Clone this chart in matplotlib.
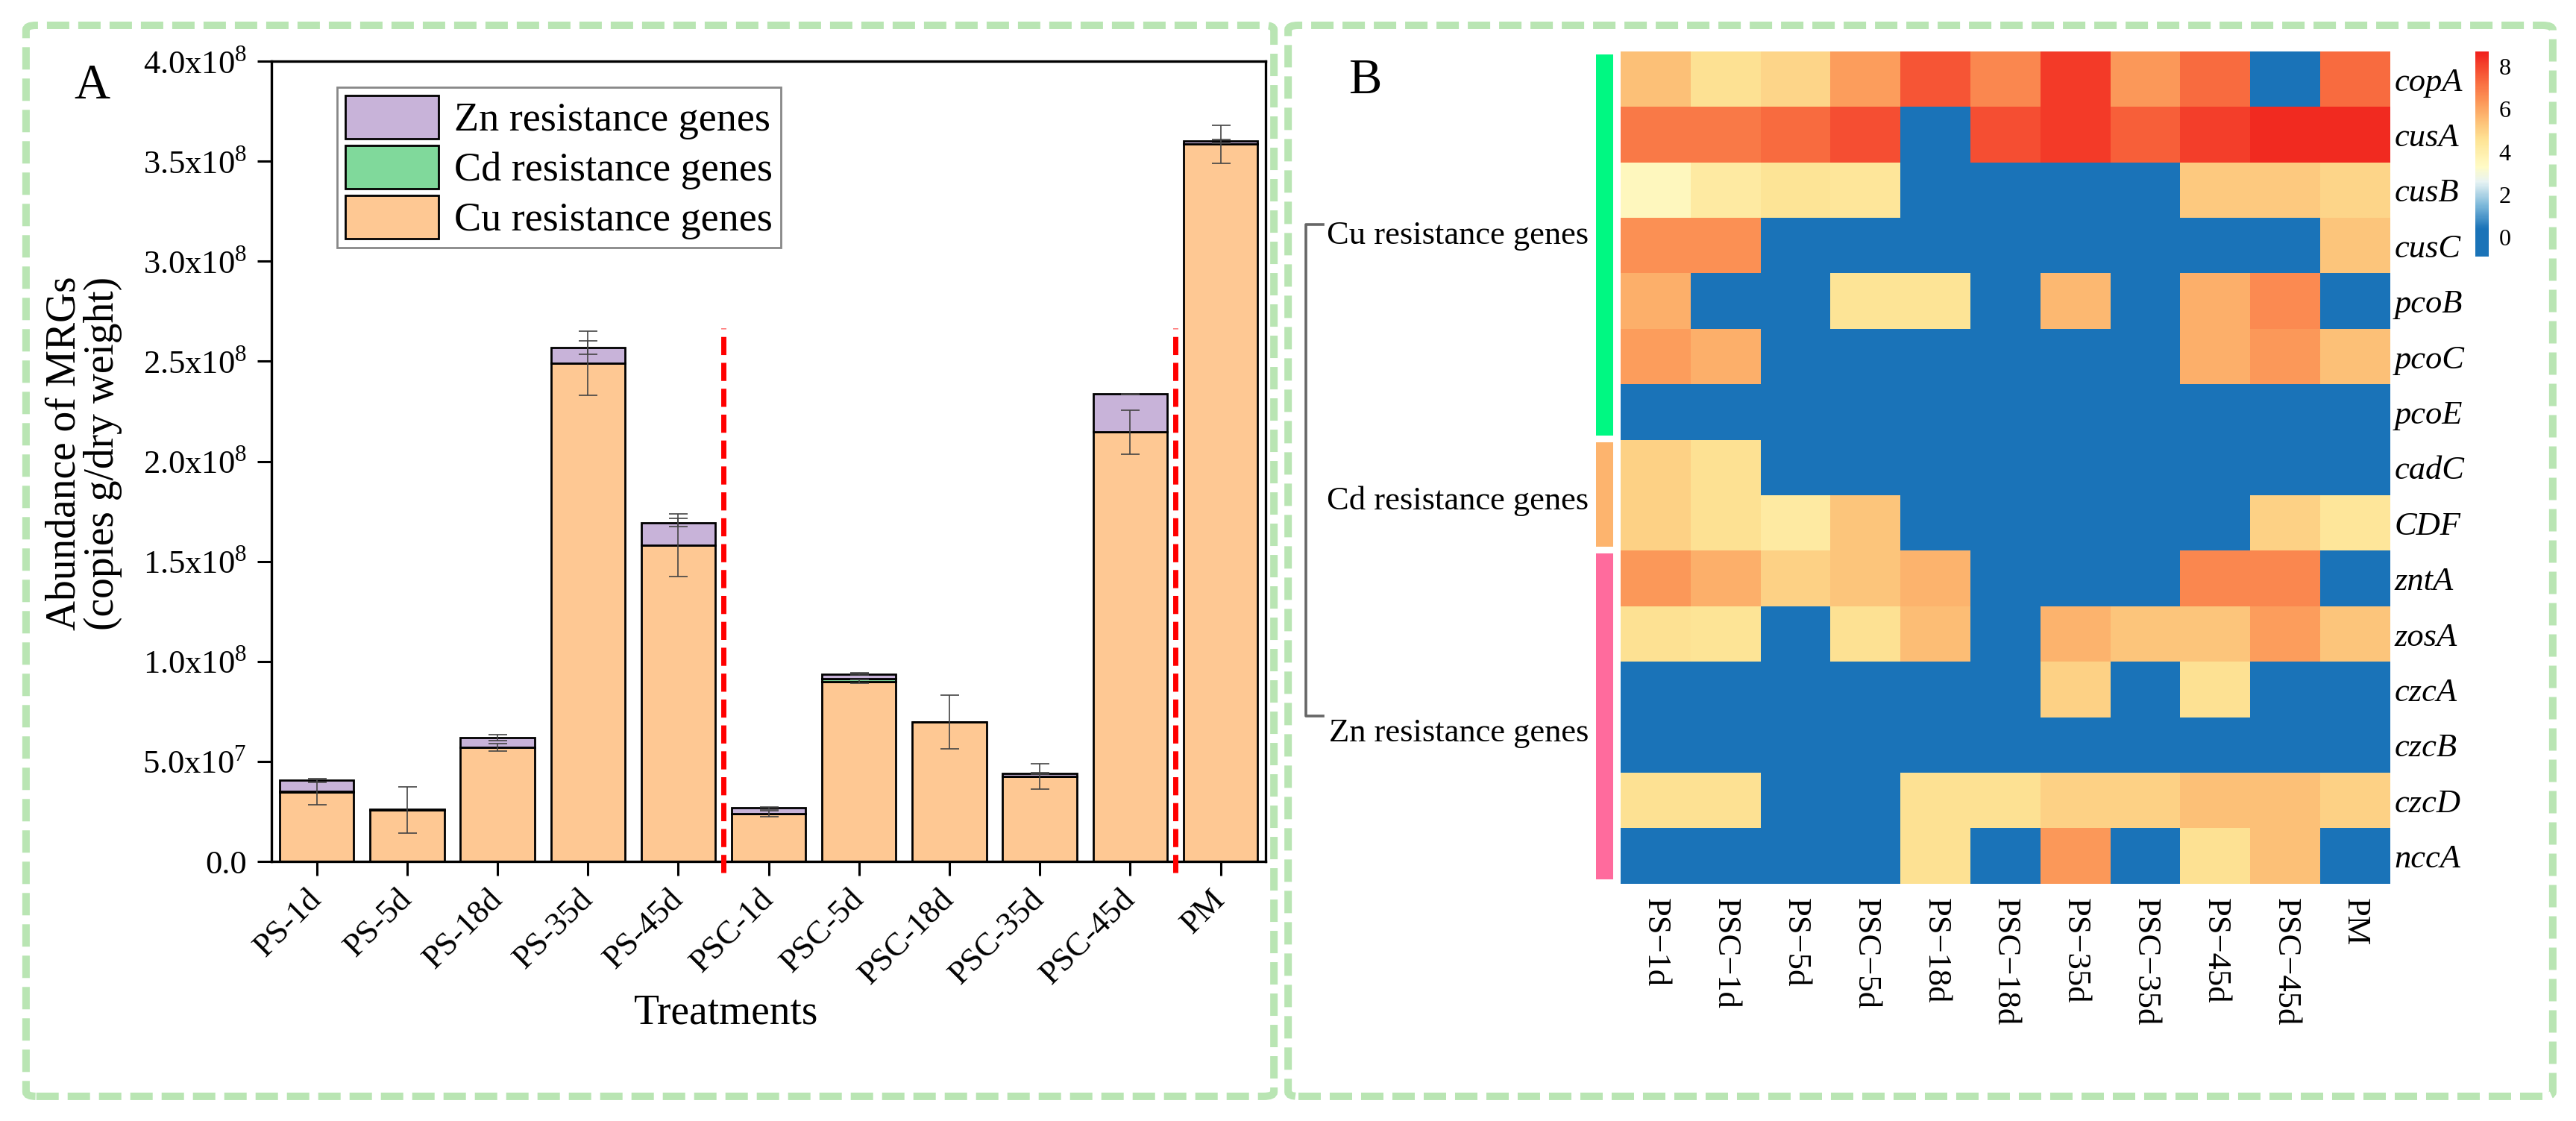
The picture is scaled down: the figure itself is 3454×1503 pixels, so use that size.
import numpy as np
import matplotlib
matplotlib.use('Agg')
import matplotlib.pyplot as plt
from matplotlib.colors import LinearSegmentedColormap
from matplotlib.patches import FancyBboxPatch, Patch
from matplotlib.lines import Line2D
from matplotlib.ticker import FuncFormatter

plt.rcParams['font.family'] = ['Liberation Serif', 'DejaVu Serif']
plt.rcParams['mathtext.fontset'] = 'custom'
plt.rcParams['mathtext.rm'] = 'Liberation Serif'

# ---- panel A data (copies g/dry weight) ----
treatments = ['PS-1d', 'PS-5d', 'PS-18d', 'PS-35d', 'PS-45d',
              'PSC-1d', 'PSC-5d', 'PSC-18d', 'PSC-35d', 'PSC-45d', 'PM']
cu = np.array([0.347, 0.257, 0.571, 2.489, 1.58, 0.239, 0.90, 0.697, 0.425, 2.146, 3.585]) * 1e8
cd = np.array([0.005, 0.0, 0.0, 0.0, 0.0, 0.0, 0.015, 0.0, 0.0, 0.0, 0.0]) * 1e8
zn = np.array([0.053, 0.004, 0.049, 0.08, 0.114, 0.029, 0.022, 0.0, 0.015, 0.19, 0.015]) * 1e8
cu_err = np.array([0.065, 0.115, 0.02, 0.16, 0.157, 0.015, 0.01, 0.135, 0.065, 0.11, 0.095]) * 1e8
zn_err = np.array([0.01, 0.0, 0.015, 0.035, 0.02, 0.005, 0.005, 0.0, 0.005, 0.003, 0.01]) * 1e8
divider_x = [4.5, 9.5]
divider_top = 2.665e8

# ---- panel B data (log abundance) ----
samples = ['PS\u22121d', 'PSC\u22121d', 'PS\u22125d', 'PSC\u22125d', 'PS\u221218d', 'PSC\u221218d',
           'PS\u221235d', 'PSC\u221235d', 'PS\u221245d', 'PSC\u221245d', 'PM']
genes = ['copA', 'cusA', 'cusB', 'cusC', 'pcoB', 'pcoC', 'pcoE', 'cadC', 'CDF',
         'zntA', 'zosA', 'czcA', 'czcB', 'czcD', 'nccA']
heat = np.array([
    [5.4, 4.6, 4.9, 6.2, 7.7, 6.7, 8.2, 6.3, 7.3, 0.0, 7.3],
    [7.0, 7.0, 7.3, 7.8, 0.0, 7.8, 8.2, 7.5, 8.1, 8.5, 8.5],
    [3.5, 4.2, 4.5, 4.4, 0.0, 0.0, 0.0, 0.0, 5.2, 5.2, 4.9],
    [6.5, 6.5, 0.0, 0.0, 0.0, 0.0, 0.0, 0.0, 0.0, 0.0, 5.3],
    [5.8, 0.0, 0.0, 4.5, 4.5, 0.0, 5.6, 0.0, 5.8, 6.6, 0.0],
    [6.2, 5.8, 0.0, 0.0, 0.0, 0.0, 0.0, 0.0, 5.8, 6.3, 5.4],
    [0.0, 0.0, 0.0, 0.0, 0.0, 0.0, 0.0, 0.0, 0.0, 0.0, 0.0],
    [5.0, 4.6, 0.0, 0.0, 0.0, 0.0, 0.0, 0.0, 0.0, 0.0, 0.0],
    [5.0, 4.6, 4.2, 5.3, 0.0, 0.0, 0.0, 0.0, 0.0, 5.0, 4.4],
    [6.3, 5.8, 5.0, 5.3, 5.7, 0.0, 0.0, 0.0, 6.7, 6.7, 0.0],
    [4.6, 4.5, 0.0, 4.6, 5.5, 0.0, 5.7, 5.3, 5.3, 6.2, 5.3],
    [0.0, 0.0, 0.0, 0.0, 0.0, 0.0, 5.0, 0.0, 4.6, 0.0, 0.0],
    [0.0, 0.0, 0.0, 0.0, 0.0, 0.0, 0.0, 0.0, 0.0, 0.0, 0.0],
    [4.6, 4.6, 0.0, 0.0, 4.6, 4.6, 5.0, 5.0, 5.4, 5.4, 5.0],
    [0.0, 0.0, 0.0, 0.0, 4.6, 0.0, 6.3, 0.0, 4.6, 5.4, 0.0],
])
groups = ['Cu resistance genes', 'Cd resistance genes', 'Zn resistance genes']
group_sizes = [7, 2, 6]
group_colors = ['#00f882', '#fdb46e', '#ff6b9d']

c_cu, c_cd, c_zn = '#fec893', '#80d99b', '#c8b3d9'

fig = plt.figure(figsize=(17.275, 7.515), dpi=200)

# dashed panel frames
for x0, x1 in [(0.0101, 0.4944), (0.4999, 0.9907)]:
    box = FancyBboxPatch((x0, 0.022), x1 - x0, 0.9554,
                         boxstyle='round,pad=0,rounding_size=0.004',
                         transform=fig.transFigure, fill=False,
                         edgecolor='#b9e5b3', lw=3.6, linestyle=(0, (3, 1.2)))
    fig.add_artist(box)

# ---------------- panel A ----------------
ax = fig.add_axes([0.1054, 0.2315, 0.3858, 0.7139])
x = np.arange(len(treatments))
w = 0.82
ax.bar(x, cu, w, color=c_cu, edgecolor='black', lw=1.0, label='Cu resistance genes')
ax.bar(x, cd, w, bottom=cu, color=c_cd, edgecolor='black', lw=1.0, label='Cd resistance genes')
ax.bar(x, zn, w, bottom=cu + cd, color=c_zn, edgecolor='black', lw=1.0, label='Zn resistance genes')
ax.errorbar(x, cu, yerr=cu_err, fmt='none', ecolor='#444444', elinewidth=0.6, capsize=4.5, capthick=0.6)
has_zn = zn_err > 0
ax.errorbar(x[has_zn], (cu + cd + zn)[has_zn], yerr=zn_err[has_zn], fmt='none',
            ecolor='#444444', elinewidth=0.6, capsize=4.5, capthick=0.6)
for dx in divider_x:
    ax.plot([dx, dx], [-0.055e8, divider_top], color='#ff0000', lw=2.5,
            linestyle=(0, (3.5, 1.5)), clip_on=False, zorder=5)

ax.set_xlim(-0.5, 10.5)
ax.set_ylim(0, 4.0e8)
ax.set_yticks(np.arange(0, 4.01e8, 0.5e8))


def sci(v, pos):
    if v == 0:
        return '0.0'
    e = int(np.floor(np.log10(v)))
    return '%.1fx10$^{%d}$' % (v / 10 ** e, e)


ax.yaxis.set_major_formatter(FuncFormatter(sci))
ax.set_xticks(x)
ax.set_xticklabels(treatments, rotation=45, ha='right', va='center', rotation_mode='anchor')
ax.tick_params(axis='both', direction='out', length=7, width=1.1, labelsize=16, pad=5)
ax.tick_params(axis='x', pad=9)
for s in ax.spines.values():
    s.set_linewidth(1.2)
ax.set_ylabel('Abundance of MRGs\n(copies g/dry weight)', fontsize=20, linespacing=1.0)
ax.yaxis.set_label_coords(-0.15, 0.51)
ax.set_xlabel('Treatments', fontsize=20)
ax.xaxis.set_label_coords(0.457, -0.165)

handles = [Patch(facecolor=c_zn, edgecolor='black', lw=1.0),
           Patch(facecolor=c_cd, edgecolor='black', lw=1.0),
           Patch(facecolor=c_cu, edgecolor='black', lw=1.0)]
leg = ax.legend(handles, ['Zn resistance genes', 'Cd resistance genes', 'Cu resistance genes'],
                loc='upper left', bbox_to_anchor=(0.066, 0.967), fontsize=19.5,
                handlelength=2.3, handleheight=1.25, labelspacing=0.15, borderpad=0.2,
                handletextpad=0.4, borderaxespad=0, fancybox=False, framealpha=1)
leg.get_frame().set_edgecolor('#888888')
leg.get_frame().set_linewidth(1.0)

fig.text(0.0356, 0.923, 'A', fontsize=24, ha='center', va='center')

# ---------------- panel B ----------------
cmap = LinearSegmentedColormap.from_list('mrg', [
    (0.0, '#1a73b8'), (0.135, '#1a73b8'), (0.25, '#7db8da'), (0.365, '#e8f3f3'),
    (0.438, '#fffbc6'), (0.563, '#fee597'), (0.646, '#fdc67c'), (0.75, '#fc9a5a'),
    (0.854, '#f96c40'), (1.0, '#f0201c')])
vmin, vmax = -0.9, 8.7

hax = fig.add_axes([0.629, 0.2116, 0.2986, 0.7425])
im = hax.imshow(heat, cmap=cmap, vmin=vmin, vmax=vmax, aspect='auto', interpolation='nearest')
hax.set_xticks(np.arange(len(samples)))
hax.set_xticklabels(samples, rotation=270, ha='center', va='top', fontsize=16)
hax.set_yticks(np.arange(len(genes)))
hax.set_yticklabels(genes, fontsize=16, fontstyle='italic')
hax.yaxis.tick_right()
hax.tick_params(axis='both', length=0)
hax.tick_params(axis='x', pad=7)
hax.tick_params(axis='y', pad=2)
for s in hax.spines.values():
    s.set_visible(False)

# row group annotation bar
aax = fig.add_axes([0.6194, 0.2116, 0.0067, 0.7425], sharey=hax)
start = -0.5
for n, col in zip(group_sizes, group_colors):
    aax.bar(0, n - 0.13, bottom=start + 0.05, width=1.0, color=col, lw=0)
    start += n
aax.set_xlim(-0.5, 0.5)
aax.axis('off')

# group labels with bracket
label_y = [0.79, 0.553, 0.346]
for name, yy in zip(groups, label_y):
    fig.text(0.6165, yy, name, fontsize=16, ha='right', va='center')
fig.add_artist(Line2D([0.5135, 0.5068, 0.5068, 0.5135], [0.80, 0.80, 0.361, 0.361],
                      transform=fig.transFigure, color='#666666', lw=1.3))

cax = fig.add_axes([0.9606, 0.771, 0.0052, 0.183])
cb = fig.colorbar(im, cax=cax, ticks=[0, 2, 4, 6, 8])
cb.outline.set_visible(False)
cb.ax.tick_params(length=0, labelsize=11.5, pad=5)

fig.text(0.5297, 0.928, 'B', fontsize=24, ha='center', va='center')

fig.savefig('out.png', dpi=200)
plt.close(fig)
